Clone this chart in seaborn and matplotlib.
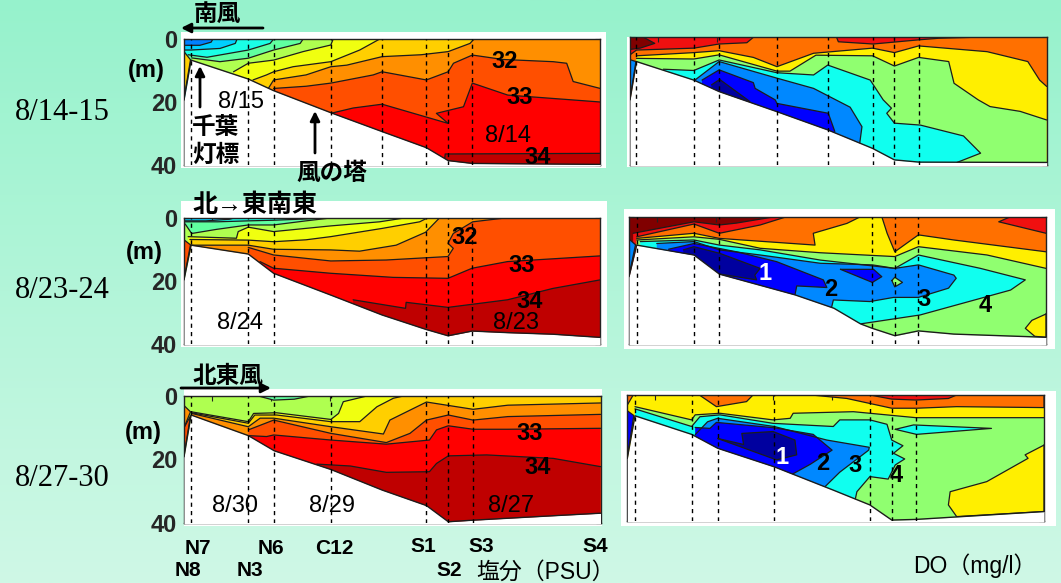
import numpy as np
import matplotlib
matplotlib.use('Agg')
import matplotlib.pyplot as plt
from matplotlib.colors import LinearSegmentedColormap
from matplotlib.patches import Rectangle
import seaborn as sns

# distance along section (km) and depth (m)
sal1_st = [-3.5, 6.2, 10.5, 20.2, 28.9, 36.4, 40.1, 44.2]
sal1_bot_x = [-4.7, -3.5, 6.2, 10.5, 20.2, 28.9, 36.4, 40.1, 44.2, 65.9]
sal1_bot_d = [19.4, 6.7, 12.7, 16.4, 23.4, 29.4, 34.5, 38.6, 39.5, 39.8]
sal1_base = 24
sal1_lev = [25, 26, 27, 28, 29, 30, 31, 32, 33, 34]
sal1_x = [
    [-4.7, -2, -0.1, 0.2],
    [-4.7, -3.5, 1.4, 4.0, 4.3],
    [-4, -0.8, 6.2, 9.9, 10.5],
    [-3.4, 1.4, 6.2, 10.5, 15, 15.5],
    [3.7, 6.2, 10.5, 15.5, 20.2, 20.6],
    [7, 9.3, 10.5, 13.8, 20.2, 25.1, 28.5],
    [9.6, 10.5, 16, 20.2, 22.9, 28.9, 35.5, 40.1, 43.8, 44.5],
    [10.5, 16, 20.2, 27.4, 28.9, 36.4, 40.1, 41, 44.2, 49.4, 57.9, 60.2, 61.3, 65.9],
    [20.2, 24, 28.9, 40.1, 38.1, 42.7, 44.2, 50.2, 60.2, 65.9],
    [39.5, 39.6, 65.9],
]
sal1_d = [
    [2, 2, 1, 0],
    [3.5, 3.5, 3, 1.4, 0],
    [5, 5.8, 3.5, 1.4, 0],
    [6, 7.2, 6.1, 3.5, 1.4, 0],
    [10.4, 7.7, 6.7, 4, 1.9, 0],
    [13, 11.4, 10.4, 8.8, 7.2, 3.5, 0],
    [15.7, 13, 11.4, 8.8, 8.3, 5.6, 5, 4, 1.4, 0],
    [15.7, 15, 14, 11.4, 10.4, 13, 10.4, 7.7, 5.1, 6.5, 7.2, 7.7, 13.5, 15.7],
    [23.6, 21.9, 20.7, 26.8, 23.6, 21.5, 14, 17.8, 19.2, 20],
    [38.2, 36.5, 36.3],
]
sal1_blob_lev = [30]
sal1_blob_x = [[-4.7, -3.6, -4.7]]
sal1_blob_d = [[4, 6.6, 19]]

sal2_st = [-3.5, 6.2, 10.5, 36.4, 40.1, 44.2]
sal2_bot_x = [-4.7, -3.5, 6.2, 10.5, 20.2, 28.9, 36.4, 40.1, 44.2, 50.2, 57.9, 65.9]
sal2_bot_d = [19.7, 8.7, 11.5, 17.6, 24.5, 30.8, 35.4, 37.4, 35.9, 36.4, 36.9, 37.9]
sal2_base = 25
sal2_lev = [26, 27, 28, 29, 30, 31, 32, 33, 34]
sal2_x = [
    [-4.7, -1, 3, 4],
    [-4.7, 1, 6.2, 10.5, 16, 20],
    [-4.5, -3.4, 0.8, 6.2, 10.5, 16, 20.6],
    [-4, 4.2, 4.5, 6.2, 10.5, 20.2, 28.5, 33],
    [-3.7, 6.2, 10.5, 16, 20.2, 28.9, 35.3, 36.7],
    [-3.4, 6.2, 10.5, 20.2, 25.1, 31.3, 36.3, 38.7],
    [6.2, 10.5, 20.2, 29.6, 40.1, 41, 40.1, 41, 44.3, 50.2],
    [8.2, 10.5, 20.2, 30.8, 40.1, 44.2, 50.2, 65.9],
    [24, 32.9, 33, 40.1, 50.2, 57.9, 65.9],
]
sal2_d = [
    [1, 1, 0.5, 0],
    [1.3, 1.3, 1, 0.8, 0.4, 0],
    [2, 5, 3.7, 2.3, 2.3, 1, 0],
    [6, 6.5, 4.4, 3, 4.4, 2.6, 1.3, 0],
    [6.9, 7.1, 7.6, 7, 6, 3.4, 1.3, 0],
    [8.7, 8.7, 10, 10.2, 10.6, 8.7, 4.6, 0],
    [9.4, 11.8, 13.7, 13.4, 12.3, 9.7, 8.1, 5, 1.3, 0],
    [13.9, 16, 17.6, 18.9, 19.2, 16, 13.9, 12.1],
    [26, 28.7, 26.8, 28.4, 26, 22.4, 19.7],
]
sal2_blob_lev = [32]
sal2_blob_x = [[-4.7, -3.6, -4.7]]
sal2_blob_d = [[7, 8.6, 19.5]]

sal3_st = [-3.5, 6.2, 10.6, 20.2, 36.4, 40.1, 44.3]
sal3_bot_x = [-4.7, -3.5, 6.2, 10.6, 20.2, 28.9, 36.4, 40.1, 44.3, 57.9, 65.9]
sal3_bot_d = [19.2, 6, 12.5, 17.3, 23.2, 29.7, 34.6, 39.7, 39.2, 37.8, 37]
sal3_base = 28
sal3_lev = [29, 30, 31, 32, 33, 34]
sal3_x = [
    [-3.4, 6.2, 7.1, 11, 20.2, 21.5, 22.3, 26.3],
    [-3.4, 6.2, 7.3, 11, 20.2, 25.1, 28, 30.8, 32.5],
    [-3.4, 6.2, 8.2, 10.5, 20.2, 29.1, 30.2, 36.4, 44.3, 50.2, 65.9],
    [6.2, 10.5, 20.2, 29.6, 33.6, 36.4, 40.1, 44.3, 50.2, 65.9],
    [6.2, 9.3, 10.5, 20.2, 29.6, 36.9, 38.1, 40.1, 44.3, 50.2, 65.9],
    [17.8, 23.5, 29.6, 36.9, 38.1, 40.1, 46.6, 57.9, 65.9],
]
sal3_d = [
    [5, 8.1, 5.5, 5.3, 7.4, 5.5, 1.8, 0],
    [5.3, 8.6, 6, 6, 8.1, 8.1, 3.4, 0.7, 0],
    [5.5, 9.7, 7, 7, 9.7, 12, 7.6, 1.9, 4.2, 2.9, 2.2],
    [10.7, 7.6, 11.8, 14.7, 11.8, 7.6, 6, 7.6, 6.5, 5.8],
    [12.5, 12.8, 12.3, 13.9, 15.2, 13.9, 10.7, 9.4, 10.5, 10.5, 10.2],
    [21.5, 22.1, 24.1, 23.9, 21.3, 18.9, 18.6, 19.7, 22.3],
]
sal3_blob_lev = [27, 31, 32]
sal3_blob_x = [[7.9, 10.5, 14, 16.7], [-4.7, -3.6, -4.7], [-4.7, -3.6, -4.7]]
sal3_blob_d = [[0, 1.3, 1, 0], [3, 5, 10], [10, 6.3, 19]]

do1_st = [-3.6, 6.1, 10.4, 20.2, 28.8, 36.4, 40.1, 44.3]
do1_bot_x = [-4.7, -3.6, 6.1, 10.4, 20.2, 28.8, 36.4, 40.1, 44.3, 65.9]
do1_bot_d = [19.6, 7.6, 13.4, 17, 23.3, 29, 34.8, 38.4, 39.1, 39.2]
do1_base = 8
do1_lev = [7, 6, 5, 4, 3, 2, 1]
do1_x = [
    [-4.7, -3.6, 6.1, 10.4, 15.1, 16.2, 30.3, 30.6, 36.5, 44.2, 47.6, 53.5],
    [-3.6, 6.1, 10.4, 16.2, 20.2, 26.4, 36.4, 40.1, 44.2, 55.8, 62.7, 64.7, 65.9],
    [-3.6, 6.1, 10.4, 20.2, 22.4, 26.8, 36.4, 40.1, 44.2, 49.3, 50.2, 54.3, 56.3, 61.4, 65.9],
    [0.95, 6.1, 10.4, 20.2, 26.4, 28.8, 36, 38.2, 39.6, 38.8, 40.1, 44.5, 51.8, 54.7, 50.7],
    [6.3, 10.4, 20.2, 26.4, 32.6, 34.6, 34.2],
    [7.5, 10.4, 16.2, 16.5, 19.9, 20.2, 28.9, 30],
    [9.1, 10.5, 15.6],
]
do1_d = [
    [5.5, 4, 3.4, 2.1, 1.7, 0, 0, 1.4, 2.1, 0.8, 0.3, 0],
    [5.8, 4.8, 4.2, 6.3, 9.2, 5, 3.4, 4.8, 2.7, 4.5, 7.6, 13.4, 15.4],
    [6.6, 6.8, 5.5, 10.6, 10.6, 5.6, 5.8, 9, 6.3, 7.6, 14.4, 19.6, 21.7, 23.2, 25.9],
    [10, 10.4, 7.1, 11.1, 11.8, 8.7, 13.4, 19.6, 22.2, 23.8, 26.9, 27.5, 30.9, 36.3, 39.2],
    [13.4, 7.6, 12.8, 16, 21.9, 28, 33.5],
    [13.4, 10.2, 14.2, 16, 19.6, 20.7, 23.8, 29.5],
    [14.9, 13.2, 20.1],
]
do1_blob_lev = [9, 3]
do1_blob_x = [[-4.7, -2.4, -0.5, -3, -4.7], [-4.7, -3.7, -4.7]]
do1_blob_d = [[0, 0, 1.9, 3.4, 3.8], [7, 7.6, 19.5]]

do2_st = [-3.4, 6.3, 10.6, 36.5, 40.3, 44.3]
do2_bot_x = [-4.7, -3.4, 6.3, 10.6, 23.4, 30, 34.5, 36.5, 40.3, 44.3, 50.3, 65.9]
do2_bot_d = [18.8, 8.9, 12, 18, 24.5, 28.7, 33.6, 35, 37.3, 35.8, 36.8, 37.8]
do2_base = 9
do2_lev = [8, 7, 6, 5, 4, 3, 2, 1]
do2_x = [
    [-4, 6.3, 10.6, 13.5, 20],
    [-3.4, 6.3, 10.6, 17.5, 22, 59.9, 57.9, 65.9],
    [-3.4, 6.3, 10.6, 26.8, 26.5, 32.2, 34.5, 38.1, 39, 40.3, 44.3, 50.3, 65.9],
    [-3.4, 6.3, 10.6, 17.5, 27.7, 40.3, 44.3, 55.9, 65.9],
    [-2.8, 6.3, 10.6, 17.5, 27.7, 40.3, 44.3, 54.8, 62.4, 59.9, 54.8, 44.6, 34.5],
    [0, 6.3, 10.6, 17.5, 27.7, 36.5, 40.3, 44.3, 50.3, 50.7, 49.4, 44.3, 40.1, 36.1, 29.9, 29.6],
    [2, 6.3, 13.5, 20.3, 28.2, 28.8, 23.7, 23.4],
    [4.5, 6.3, 10.7, 17.5, 16.6, 16.9, 10.7],
]
do2_d = [
    [5.2, 1.6, 2.6, 2, 0],
    [6.3, 2.3, 5.2, 2.6, 0, 0, 1.6, 5.2],
    [6.8, 5.2, 6.8, 8.9, 5.2, 2.1, 0, 0, 5.2, 11, 5.7, 7.3, 11],
    [7.3, 6.3, 7.1, 9.9, 11.3, 12.5, 9.4, 12, 16.2],
    [7.8, 7.3, 8.9, 10.4, 13.6, 16.2, 12, 16.2, 19.8, 23, 25.6, 30.8, 33.6],
    [8.4, 7.8, 10.4, 12, 14.6, 15.1, 16.2, 15.1, 18.3, 19.3, 22.4, 25.3, 25.3, 26.6, 26.1, 28.4],
    [10.2, 8.4, 11, 14.1, 19.8, 22.2, 21.7, 24.5],
    [10.4, 9.4, 11.5, 16.2, 18.3, 19.8, 18],
]
do2_blob_lev = [2, 5, 6, 3]
do2_blob_x = [
    [31.1, 36.7, 38.1, 36.5],
    [39.8, 40.3, 41.6, 40.3],
    [65.9, 63.5, 62.4, 64, 65.9],
    [-4.7, -3.6, -4.7],
]
do2_blob_d = [
    [16.5, 16.5, 18.8, 20.6],
    [20, 19, 20.6, 22],
    [30.5, 32.5, 35, 37.5, 37.8],
    [7, 8.8, 18.5],
]

do3_st = [-3.4, 6.2, 10.6, 20.2, 36.4, 40.1, 44.2]
do3_bot_x = [-4.7, -3.4, 6.2, 10.6, 20.2, 30.2, 36.4, 40.1, 44.2, 65.9]
do3_bot_d = [20.1, 6.6, 12.5, 16.9, 22.8, 30.2, 34.9, 39.7, 39.5, 37]
do3_base = 6
do3_lev = [5, 4, 3, 2]
do3_x = [
    [-3.4, 6.2, 6.8, 11, 20, 22.9, 23.4, 33.6, 44.2, 65.9],
    [-3.4, 6.2, 7.6, 11, 20, 30.2, 31.3, 36.4, 39.3, 40.1, 42, 40.4, 42.3, 40.7, 39.5, 36.4, 34.2, 33.9],
    [6.8, 8.9, 10.6, 20.2, 29.1, 36.3, 36.2, 31.3, 28.8],
    [6.8, 9.3, 10.4, 20.2, 26.8, 30, 26.3, 23.2],
]
do3_d = [
    [3.7, 7.9, 6.3, 5.8, 7.9, 7.4, 5.8, 5.3, 7.2, 7.2],
    [4.4, 10, 6.9, 6.3, 9, 10, 7.9, 7.9, 9.3, 14.3, 16.1, 18.5, 20.3, 22.2, 26.7, 25.9, 30.7, 33.3],
    [12.6, 8.5, 7.4, 10, 14.3, 16.6, 17.5, 24.5, 29.1],
    [10.3, 10.6, 8.7, 10.4, 12.5, 17.5, 22, 25.2],
]
do3_blob_lev = [7, 7, 8, 7, 6, 4, 1, 2]
do3_blob_x = [
    [7.5, 10.4, 15.5, 16.6],
    [26.5, 32.5, 40.1, 44.3, 51.1, 65.9, 65.9],
    [36.4, 40.1, 44.2, 49.7, 51.1],
    [-4.7, -3.7, -4.7],
    [65.9, 62.7, 63.2, 56.2, 50, 49.7, 51.1, 65.9],
    [40.7, 43.8, 57, 44.3],
    [10.6, 15, 14.7, 20, 23.7, 24, 20.6],
    [-4.7, -3.6, -4.7],
]
do3_blob_d = [
    [0, 3.7, 2.1, 0],
    [0, 1.1, 4.2, 4.2, 3.7, 4, 0],
    [0, 1.3, 1.6, 1.1, 0],
    [0, 0, 3.2],
    [15.9, 19, 20.1, 27.5, 30.7, 34.9, 38.6, 37],
    [10.9, 9.5, 10.6, 12.5],
    [13.8, 15.7, 12.2, 11.6, 14.3, 19, 20.6],
    [5, 6.5, 20],
]

depth_ticks = [0, 10, 20, 30, 40]
depth_labels = ['0', '', '20', '', '40']
dist_ticks = [0, 10, 20, 30, 40, 50, 60]

SAL_COLORS = {24: '#0080ff', 25: '#00cfff', 26: '#1affe6', 27: '#60ffa0', 28: '#afff50',
              29: '#f0ff10', 30: '#ffcf00', 31: '#ff8f00', 32: '#ff4f00', 33: '#ff0000', 34: '#bf0000'}
DO_COLORS = {1: '#00009f', 2: '#0000ff', 3: '#0088ff', 4: '#10ffef', 5: '#90ff70', 6: '#ffef00',
             7: '#ff7000', 8: '#f01010', 9: '#800000'}

W, H = 1061, 583
XMIN, XMAX = -4.7, 65.9
LINE = '#1c1c1c'

sns.set_theme(style='ticks')
plt.rcParams['font.family'] = ['Liberation Sans', 'Noto Sans CJK JP', 'DejaVu Sans']

fig = plt.figure(figsize=(W / 100, H / 100), dpi=100)

# background gradient and the white cards behind the panels
bg = fig.add_axes([0, 0, 1, 1], zorder=-1)
cmap = LinearSegmentedColormap.from_list('bg', ['#96f2cc', '#cff8e6'])
bg.imshow(np.linspace(0, 1, 256).reshape(-1, 1), cmap=cmap, aspect='auto', extent=(0, W, H, 0))
bg.set_xlim(0, W)
bg.set_ylim(H, 0)
bg.set_axis_off()
for x0, y0, x1, y1 in [(181, 32, 606, 168), (181, 201, 607, 347), (184, 389, 602, 526),
                       (627, 37, 1048, 167), (624, 209, 1055, 349), (621, 391, 1056, 526)]:
    bg.add_patch(Rectangle((x0, y0), x1 - x0, y1 - y0, color='white', lw=0))


def panel(box, colors, base, lev, xs, ds, bot_x, bot_d, stations, labels=False,
          blob_lev=(), blob_x=(), blob_d=()):
    l, t, r, b = box
    ax = fig.add_axes([l / W, 1 - b / H, (r - l) / W, (b - t) / H])
    ax.set_facecolor(colors[base])
    # each isoline paints everything below it, shallow levels first
    for k, x, d in zip(lev, xs, ds):
        px, pd = list(x), list(d)
        if pd[-1] == 0:
            px.append(XMAX + 1)
            pd.append(0)
        px += [px[-1], px[0]]
        pd += [46, 46]
        ax.fill(px, pd, color=colors[k], lw=0, zorder=1)
        sns.lineplot(x=x, y=d, sort=False, estimator=None, errorbar=None, color=LINE, lw=0.9, zorder=2, ax=ax)
    for k, x, d in zip(blob_lev, blob_x, blob_d):
        ax.fill(x, d, color=colors[k], lw=0, zorder=2.1)
        sns.lineplot(x=list(x) + [x[0]], y=list(d) + [d[0]], sort=False, estimator=None, errorbar=None,
                     color=LINE, lw=0.9, zorder=2.2, ax=ax)
    ax.fill_between(bot_x, bot_d, 46, color='white', lw=0, zorder=3)
    sns.lineplot(x=bot_x, y=bot_d, sort=False, estimator=None, errorbar=None, color=LINE, lw=1, zorder=4, ax=ax)
    for s in stations:
        ax.axvline(s, color='black', lw=1, dashes=(3, 3), zorder=5)
    ax.set_xlim(XMIN, XMAX)
    ax.set_ylim(40, 0)
    ax.set_xticks(dist_ticks)
    ax.set_xticklabels([])
    ax.set_yticks(depth_ticks)
    ax.set_yticklabels(depth_labels if labels else [])
    ax.set_xlabel('')
    ax.set_ylabel('')
    ax.tick_params(direction='in', top=True, right=True, length=3.5, width=0.8, color='#222222', labelsize=17, pad=5)
    for t_ in ax.get_yticklabels():
        t_.set_fontweight('bold')
    for sp in ax.spines.values():
        sp.set_visible(True)
        sp.set_linewidth(1)
        sp.set_color('#222222')
    return ax


panel((184, 39, 600.3, 165), SAL_COLORS, sal1_base, sal1_lev, sal1_x, sal1_d, sal1_bot_x, sal1_bot_d, sal1_st, True,
      sal1_blob_lev, sal1_blob_x, sal1_blob_d)
panel((184, 217.7, 600, 344), SAL_COLORS, sal2_base, sal2_lev, sal2_x, sal2_d, sal2_bot_x, sal2_bot_d, sal2_st, True,
      sal2_blob_lev, sal2_blob_x, sal2_blob_d)
panel((184, 396, 600.5, 522.7), SAL_COLORS, sal3_base, sal3_lev, sal3_x, sal3_d, sal3_bot_x, sal3_bot_d, sal3_st, True,
      sal3_blob_lev, sal3_blob_x, sal3_blob_d)
panel((630, 37.3, 1046.7, 165), DO_COLORS, do1_base, do1_lev, do1_x, do1_d, do1_bot_x, do1_bot_d, do1_st, False,
      do1_blob_lev, do1_blob_x, do1_blob_d)
panel((629, 216.7, 1046, 344.3), DO_COLORS, do2_base, do2_lev, do2_x, do2_d, do2_bot_x, do2_bot_d, do2_st, False,
      do2_blob_lev, do2_blob_x, do2_blob_d)
panel((627.3, 395, 1044, 521), DO_COLORS, do3_base, do3_lev, do3_x, do3_d, do3_bot_x, do3_bot_d, do3_st, False,
      do3_blob_lev, do3_blob_x, do3_blob_d)

# all annotations live on a transparent overlay in pixel coordinates
top = fig.add_axes([0, 0, 1, 1], zorder=10)
top.set_xlim(0, W)
top.set_ylim(H, 0)
top.patch.set_alpha(0)
top.set_axis_off()


def label(x, y, s, size=17, weight='bold', color='black', family=None):
    kw = {'family': family} if family else {}
    top.text(x, y, s, fontsize=size, fontweight=weight, color=color, ha='center', va='center', **kw)


def arrow(x0, y0, x1, y1):
    top.annotate('', xy=(x1, y1), xytext=(x0, y0),
                 arrowprops=dict(arrowstyle='-|>', lw=2, color='black', mutation_scale=14, shrinkA=0, shrinkB=0))


for y, s in [(113, '8/14-15'), (290, '8/23-24'), (478, '8/27-30')]:
    label(62, y, s, size=22, weight='normal', family='Liberation Serif')
for x, y in [(146, 70), (144, 252), (143, 433)]:
    label(x, y, '(m)')

label(217, 14, '南風')
arrow(263, 28, 181, 28)
arrow(200, 107, 200, 66)
label(216, 128, '千葉', size=17)
label(216, 155, '灯標', size=17)
arrow(315, 153, 315, 111)
label(332, 173, '風の塔', size=17)
label(255, 205, '北→東南東', size=18)
label(228, 376, '北東風')
arrow(181, 388, 271, 388)

for x, y, s in [(505, 62, '32'), (520, 98, '33'), (538, 158, '34'),
                (465, 237, '32'), (522, 265, '33'), (530, 302, '34'),
                (530, 433, '33'), (538, 467, '34'),
                (831, 290, '2'), (924, 300, '3'), (985, 306, '4'),
                (823, 463, '2'), (855, 465, '3'), (896, 476, '4')]:
    label(x, y, s)
label(765, 274, '1', color='white')
label(782, 457, '1', color='white')

for x, y, s in [(241, 102, '8/15'), (508, 136, '8/14'), (240, 323, '8/24'), (516, 323, '8/23'),
                (235, 506, '8/30'), (332, 506, '8/29'), (511, 506, '8/27')]:
    label(x, y, s, weight='normal')

for x, y, s in [(198, 548, 'N7'), (188, 570, 'N8'), (250, 570, 'N3'), (271, 548, 'N6'), (334, 548, 'C12'),
                (423, 547, 'S1'), (449, 571, 'S2'), (481, 547, 'S3'), (595, 547, 'S4')]:
    label(x, y, s, size=15)
label(546, 572, '塩分（PSU）', size=16.5, weight='normal')
label(975, 566, 'DO（mg/l）', size=16.5, weight='normal')

fig.savefig('out.png', dpi=100)
